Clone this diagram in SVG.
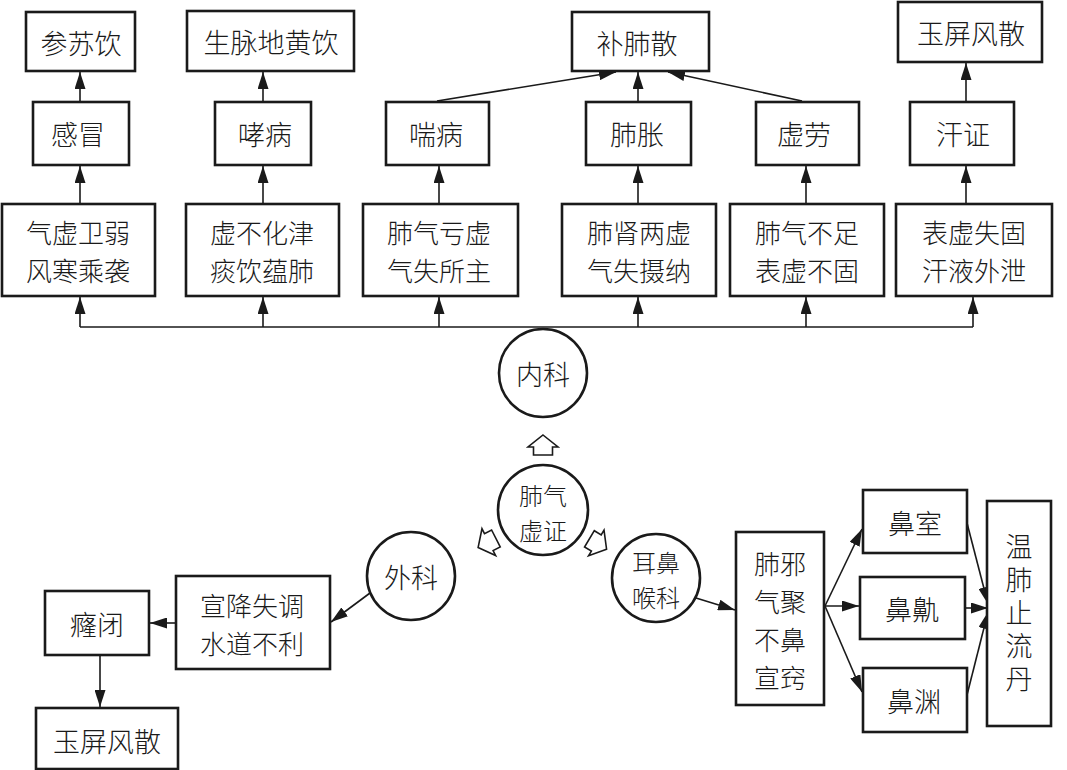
<svg xmlns="http://www.w3.org/2000/svg" width="1067" height="770" viewBox="0 0 1067 770">
<style>
.box{fill:#fff;stroke:#1a1a1a;stroke-width:2.6}
.circ{fill:#fff;stroke:#1a1a1a;stroke-width:2.6}
.t{font-family:"Noto Sans CJK SC","Noto Sans CJK TC",sans-serif;font-size:27px;font-weight:300;fill:#1a1a1a;text-anchor:middle;dominant-baseline:central}
.t2{font-size:26px}
.tc{font-size:24px}
.tv{writing-mode:vertical-rl;letter-spacing:6px}
.ln{fill:none;stroke:#1a1a1a;stroke-width:1.6}
.ar{fill:none;stroke:#1a1a1a;stroke-width:1.6;marker-end:url(#ah)}
.hol{fill:#fff;stroke:#1a1a1a;stroke-width:1.6;stroke-linejoin:miter}
</style>
<defs>
<marker id="ah" viewBox="0 0 17 11" refX="17" refY="5.5" markerWidth="17" markerHeight="11" markerUnits="userSpaceOnUse" orient="auto">
<path d="M0,0 L17,5.5 L0,11 Z" fill="#1a1a1a"/>
</marker>
<path id="hollow" d="M0,-10 L15,2 L9.5,2 L9.5,10 L-9.5,10 L-9.5,2 L-15,2 Z"/>
</defs>

<g id="connectors">
<path class="ln" d="M80,327 H973"/>
<path class="ar" d="M80,327 V297"/>
<path class="ar" d="M263,327 V297"/>
<path class="ar" d="M439,327 V297"/>
<path class="ar" d="M638,327 V297"/>
<path class="ar" d="M806,327 V297"/>
<path class="ar" d="M973,327 V297"/>
<path class="ar" d="M80,204 V166"/>
<path class="ar" d="M263,204 V166"/>
<path class="ar" d="M439,204 V166"/>
<path class="ar" d="M638,204 V166"/>
<path class="ar" d="M806,204 V166"/>
<path class="ar" d="M966,204 V166"/>
<path class="ar" d="M80,102 V72"/>
<path class="ar" d="M263,102 V72"/>
<path class="ar" d="M437,101 L616,72"/>
<path class="ar" d="M638,102 V72"/>
<path class="ar" d="M802,101 L668,72"/>
<path class="ar" d="M966,102 V63"/>
<path class="ar" d="M370,593 L331,622"/>
<path class="ar" d="M176,623 H150"/>
<path class="ar" d="M100,655 V707"/>
<path class="ar" d="M696,598 L735,610"/>
<path class="ar" d="M825,606 L862,529"/>
<path class="ar" d="M825,606 H859"/>
<path class="ar" d="M825,606 L862,692"/>
<path class="ar" d="M967,523 L988,604"/>
<path class="ar" d="M965,608 H988"/>
<path class="ar" d="M967,695 L988,612"/>
<use href="#hollow" class="hol" transform="translate(543,445)"/>
<use href="#hollow" class="hol" transform="translate(487,543) rotate(-117)"/>
<use href="#hollow" class="hol" transform="translate(598,544) rotate(121)"/>
</g>

<g id="n-shensuyin"><rect class="box" x="26" y="12" width="109" height="59"/><text class="t" x="81" y="42">参苏饮</text></g>
<g id="n-shengmai"><rect class="box" x="187" y="11" width="167" height="60"/><text class="t" x="271" y="41">生脉地黄饮</text></g>
<g id="n-bufeisan"><rect class="box" x="572" y="12" width="137" height="59"/><text class="t" x="637" y="42">补肺散</text></g>
<g id="n-yuping1"><rect class="box" x="898" y="2" width="144" height="60"/><text class="t" x="971" y="32">玉屏风散</text></g>

<g id="n-ganmao"><rect class="box" x="33" y="102" width="96" height="63"/><text class="t" x="78" y="133">感冒</text></g>
<g id="n-xiaobing"><rect class="box" x="215" y="102" width="96" height="63"/><text class="t" x="265" y="133">哮病</text></g>
<g id="n-chuanbing"><rect class="box" x="386" y="102" width="103" height="63"/><text class="t" x="436" y="133">喘病</text></g>
<g id="n-feizhang"><rect class="box" x="586" y="102" width="105" height="63"/><text class="t" x="637" y="133">肺胀</text></g>
<g id="n-xulao"><rect class="box" x="756" y="102" width="103" height="63"/><text class="t" x="804" y="133">虚劳</text></g>
<g id="n-hanzheng"><rect class="box" x="910" y="102" width="104" height="63"/><text class="t" x="963" y="133">汗证</text></g>

<g id="n-c1"><rect class="box" x="2" y="204" width="153" height="92"/><text class="t t2"><tspan x="78" y="231">气虚卫弱</tspan><tspan x="78" y="269">风寒乘袭</tspan></text></g>
<g id="n-c2"><rect class="box" x="186" y="204" width="153" height="92"/><text class="t t2"><tspan x="262" y="231">虚不化津</tspan><tspan x="262" y="269">痰饮蕴肺</tspan></text></g>
<g id="n-c3"><rect class="box" x="363" y="204" width="155" height="92"/><text class="t t2"><tspan x="439" y="231">肺气亏虚</tspan><tspan x="439" y="269">气失所主</tspan></text></g>
<g id="n-c4"><rect class="box" x="562" y="204" width="154" height="92"/><text class="t t2"><tspan x="639" y="231">肺肾两虚</tspan><tspan x="639" y="269">气失摄纳</tspan></text></g>
<g id="n-c5"><rect class="box" x="730" y="204" width="154" height="92"/><text class="t t2"><tspan x="807" y="231">肺气不足</tspan><tspan x="807" y="269">表虚不固</tspan></text></g>
<g id="n-c6"><rect class="box" x="896" y="204" width="156" height="92"/><text class="t t2"><tspan x="974" y="231">表虚失固</tspan><tspan x="974" y="269">汗液外泄</tspan></text></g>

<g id="n-neike"><circle class="circ" cx="543" cy="373" r="44"/><text class="t" x="543" y="373">内科</text></g>
<g id="n-center"><circle class="circ" cx="543" cy="510" r="45"/><text class="t tc"><tspan x="543" y="494">肺气</tspan><tspan x="543" y="529">虚证</tspan></text></g>
<g id="n-waike"><circle class="circ" cx="411" cy="576" r="44"/><text class="t" x="411" y="576">外科</text></g>
<g id="n-erbihou"><circle class="circ" cx="656" cy="578" r="44"/><text class="t tc"><tspan x="656" y="561">耳鼻</tspan><tspan x="656" y="596">喉科</tspan></text></g>

<g id="n-xuanjiang"><rect class="box" x="176" y="576" width="154" height="93"/><text class="t t2"><tspan x="252" y="604">宣降失调</tspan><tspan x="252" y="642">水道不利</tspan></text></g>
<g id="n-longbi"><rect class="box" x="45" y="591" width="104" height="64"/><text class="t" x="97" y="623">癃闭</text></g>
<g id="n-yuping2"><rect class="box" x="36" y="708" width="142" height="61"/><text class="t" x="107" y="740">玉屏风散</text></g>

<g id="n-feixie"><rect class="box" x="736" y="532" width="88" height="173"/><text class="t t2"><tspan x="780" y="562">肺邪</tspan><tspan x="780" y="600">气聚</tspan><tspan x="780" y="638">不鼻</tspan><tspan x="780" y="676">宣窍</tspan></text></g>
<g id="n-bizhi"><rect class="box" x="863" y="490" width="104" height="63"/><text class="t" x="915" y="522">鼻室</text></g>
<g id="n-biqiu"><rect class="box" x="860" y="577" width="105" height="62"/><text class="t" x="912" y="608">鼻鼽</text></g>
<g id="n-biyuan"><rect class="box" x="863" y="668" width="104" height="64"/><text class="t" x="914" y="700">鼻渊</text></g>
<g id="n-wenfei"><rect class="box" x="987" y="501" width="64" height="225"/><text class="t tv" x="1019" y="616">温肺止流丹</text></g>
</svg>
